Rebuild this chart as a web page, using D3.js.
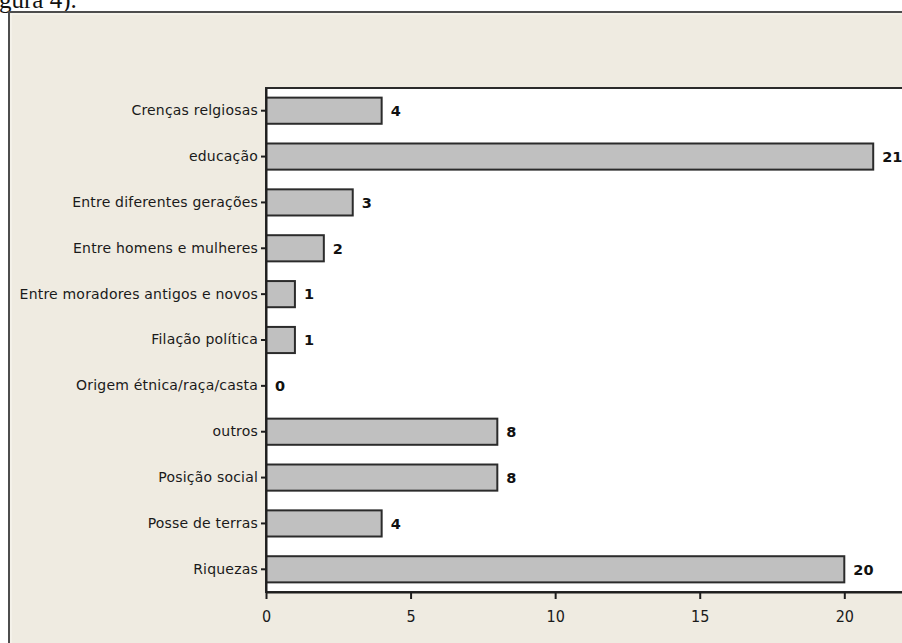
<!DOCTYPE html>
<html>
<head>
<meta charset="utf-8">
<script src="https://cdn.jsdelivr.net/npm/d3@7"></script>
<style>
  html, body { margin: 0; padding: 0; background: #ffffff; }
  svg { display: block; }
</style>
</head>
<body>
<svg id="chart" width="902" height="643"></svg>
<script>
// Categories (top to bottom) and their counts
const categories = [
  "Crenças relgiosas",
  "educação",
  "Entre diferentes gerações",
  "Entre homens e mulheres",
  "Entre moradores antigos e novos",
  "Filação política",
  "Origem étnica/raça/casta",
  "outros",
  "Posição social",
  "Posse de terras",
  "Riquezas"
];
const counts = [4, 21, 3, 2, 1, 1, 0, 8, 8, 4, 20];
const xTickValues = [0, 5, 10, 15, 20];

const svg = d3.select("#chart");

// Caption fragment from the surrounding document
svg.append("text")
  .attr("x", -1).attr("y", 8)
  .attr("font-family", "Liberation Serif, serif")
  .attr("font-size", 25)
  .attr("fill", "#111")
  .text("gura 4).");

// Outer panel
svg.append("rect")
  .attr("x", 9).attr("y", 12)
  .attr("width", 1000).attr("height", 1000)
  .attr("fill", "#efebe1")
  .attr("stroke", "#4d4d4d")
  .attr("stroke-width", 2);
svg.append("rect")
  .attr("x", 11).attr("y", 14)
  .attr("width", 1000).attr("height", 1000)
  .attr("fill", "none")
  .attr("stroke", "#faf8f2")
  .attr("stroke-width", 1);

const plotLeft = 266, plotTop = 88, plotBottom = 592;
const x = d3.scaleLinear().domain([0, 25]).range([plotLeft, plotLeft + 25 * 28.915]);
const y = d3.scaleBand().domain(categories).range([plotTop, plotBottom])
  .paddingInner(0.43).paddingOuter(0.21);

// Plot area
svg.append("rect")
  .attr("x", x(0)).attr("y", plotTop)
  .attr("width", x(25) - x(0)).attr("height", plotBottom - plotTop)
  .attr("fill", "#ffffff")
  .attr("stroke", "#2b2b2b")
  .attr("stroke-width", 2);

const data = categories.map((c, i) => ({ c, v: counts[i] }));

// Bars
svg.append("g").selectAll("rect")
  .data(data.filter(d => d.v > 0))
  .join("rect")
  .attr("x", x(0))
  .attr("y", d => y(d.c))
  .attr("width", d => x(d.v) - x(0))
  .attr("height", y.bandwidth())
  .attr("fill", "#c0c0c0")
  .attr("stroke", "#2b2b2b")
  .attr("stroke-width", 2);

// Value labels
svg.append("g").selectAll("text")
  .data(data)
  .join("text")
  .attr("x", d => x(d.v) + 9)
  .attr("y", d => y(d.c) + y.bandwidth() / 2)
  .attr("dy", "0.36em")
  .attr("font-family", "DejaVu Sans, sans-serif")
  .attr("font-weight", "bold")
  .attr("font-size", 14.5)
  .attr("fill", "#111")
  .text(d => d.v);

// Axes
const xAxis = svg.append("g")
  .attr("transform", `translate(0,${plotBottom})`)
  .call(d3.axisBottom(x).tickValues(xTickValues).tickSize(7).tickSizeOuter(0).tickPadding(12));
const yAxis = svg.append("g")
  .attr("transform", `translate(${plotLeft},0)`)
  .call(d3.axisLeft(y).tickSize(5).tickSizeOuter(0).tickPadding(3));

[xAxis, yAxis].forEach(g => {
  g.selectAll("path, line").attr("stroke", "#1e1e1e").attr("stroke-width", 2);
  g.selectAll("text").attr("fill", "#1a1a1a");
});
xAxis.selectAll("text")
  .attr("font-family", "DejaVu Sans Condensed, DejaVu Sans, sans-serif")
  .attr("font-size", 16);
yAxis.selectAll("text")
  .attr("font-family", "DejaVu Sans, sans-serif")
  .attr("font-size", 14)
  .attr("letter-spacing", "0.2px");
</script>
</body>
</html>
